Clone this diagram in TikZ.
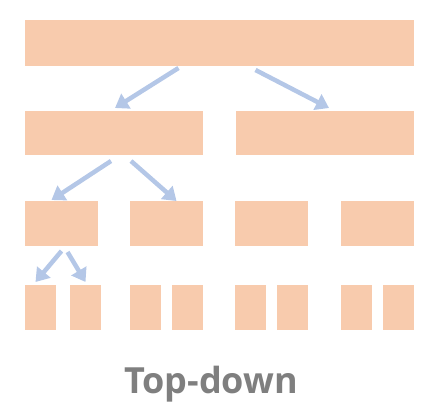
\documentclass[tikz,border=0pt]{standalone}
\usepackage{fontspec}
\setsansfont{Open Sans}
\usetikzlibrary{arrows.meta}
\definecolor{peach}{HTML}{F8CBAD}
\definecolor{paleblue}{HTML}{B4C7E7}
\definecolor{caption}{HTML}{7F7F7F}
\tikzset{
  blk/.style={fill=peach,inner sep=0,outer sep=0,anchor=north west},
  arr/.style={draw=paleblue,line width=4.5pt,-{Triangle[length=13pt,width=17pt]},shorten >=0pt}
}
\begin{document}
\begin{tikzpicture}[x=1pt,y=-1pt]
\useasboundingbox (0,0) rectangle (436,403);
% level 1
\node[blk,minimum width=389pt,minimum height=46pt](top) at (25,20){};
% level 2
\node[blk,minimum width=178pt,minimum height=44pt](l2a) at (25,111){};
\node[blk,minimum width=178pt,minimum height=44pt](l2b) at (236,111){};
% level 3
\foreach \x/\n in {25/a,130/b,235/c,341/d}
  \node[blk,minimum width=73pt,minimum height=45pt](l3\n) at (\x,201){};
% level 4
\foreach \x/\n in {25/a,70/b,130/c,172/d,235/e,277/f,341/g,383/h}
  \node[blk,minimum width=31pt,minimum height=45pt](l4\n) at (\x,285){};
% arrows
\draw[arr]([xshift=-41pt,yshift=-2pt]top.south)--([xshift=1pt,yshift=3pt]l2a.north);
\draw[arr]([xshift=36pt,yshift=-4pt]top.south)--([xshift=4pt,yshift=3pt]l2b.north);
\draw[arr]([xshift=-3pt,yshift=-6pt]l2a.south)--([xshift=-10pt,yshift=1pt]l3a.north);
\draw[arr]([xshift=17pt,yshift=-6pt]l2a.south)--([xshift=10pt,yshift=0pt]l3b.north);
\draw[arr]([xshift=0pt,yshift=-5pt]l3a.south)--([xshift=-5pt,yshift=3pt]l4a.north);
\draw[arr]([xshift=6pt,yshift=-6pt]l3a.south)--([xshift=0pt,yshift=3pt]l4b.north);
% caption
\node[anchor=base,text=caption,font=\sffamily\bfseries\fontsize{36}{40}\selectfont,inner sep=0](cap) at (211,393){Top-down};
\end{tikzpicture}
\end{document}
